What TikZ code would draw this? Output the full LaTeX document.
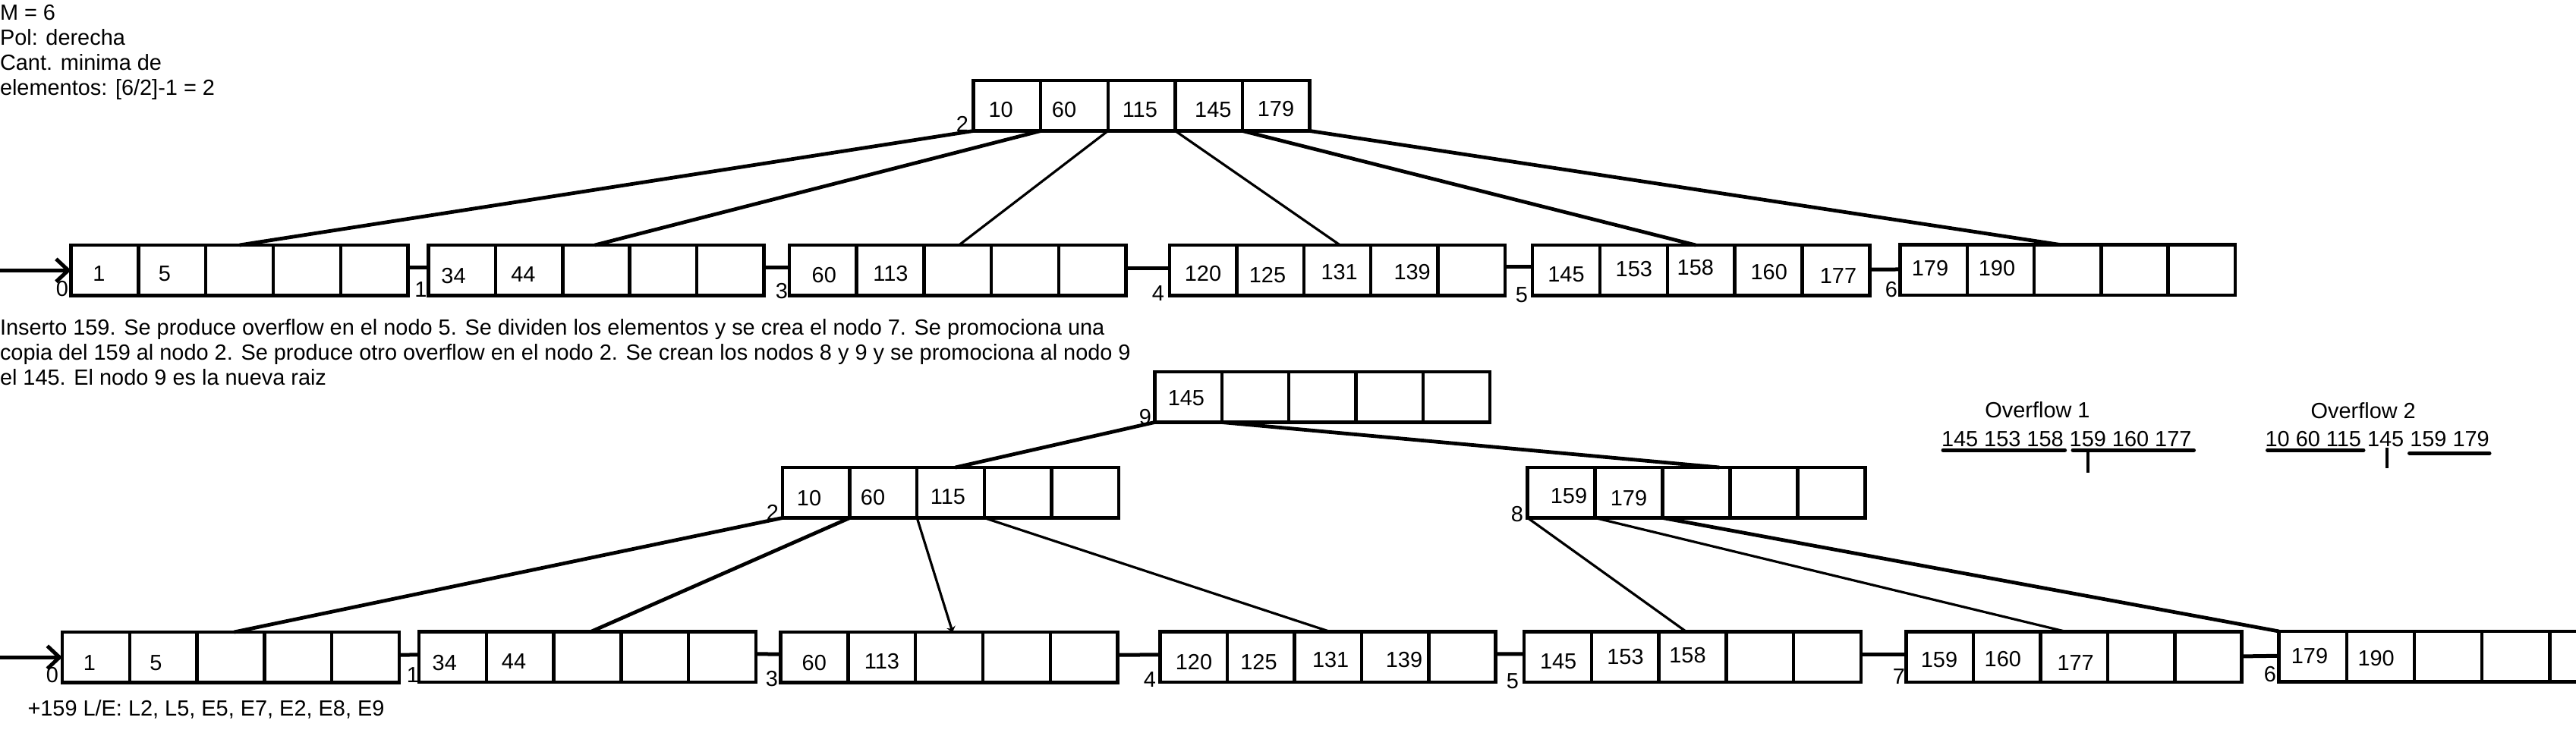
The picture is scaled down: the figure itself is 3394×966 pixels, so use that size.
\documentclass[tikz,border=0pt]{standalone}
\usepackage{fontspec}
\setmainfont{Liberation Sans}
\usetikzlibrary{arrows.meta,calc}
\tikzset{
  cell/.style={draw, line width=4.5pt, minimum height=66.5pt, inner sep=0pt, outer sep=0pt},
  txt/.style={inner sep=0pt, outer sep=0pt, font=\fontsize{28.9}{32.8}\selectfont},
  num/.style={txt, anchor=center},
  lbl/.style={txt, anchor=south east},
  textline/.style={txt, anchor=base west},
  edgeA/.style={line width=4.8pt},
  edgeB/.style={line width=3.2pt},
  link/.style={line width=5pt},
  uline/.style={line width=5pt, line cap=round},
  inarrow/.style={line width=5pt, -{Straight Barb[length=16pt,width=30pt]}},
  smallarrow/.style={-{Stealth[length=7pt,width=12pt]}}
}
\newcommand{\bnode}[4]{%
  \pgfmathsetmacro{\cw}{#4/5}%
  \foreach \i in {1,...,5}{%
    \node[cell, minimum width={\cw pt}, anchor=north west] (#1-\i) at ({#2+(\i-1)*\cw}, #3) {};
  }%
}
\begin{document}
\begin{tikzpicture}[x=1pt,y=-1pt]
\useasboundingbox (0,0) rectangle (3394,966);
\clip (0,0) rectangle (3394,966);

% ---------- header ----------
\node[textline] (h1) at (0,27) {M = 6};
\node[textline] (h2) at (0,59.8) {Pol: derecha};
\node[textline] (h3) at (0,92.6) {Cant. minima de};
\node[textline] (h4) at (0,125.4) {elementos: [6/2]-1 = 2};

% ---------- top tree ----------
\bnode{T2}{1282.5}{106}{443.2}
\bnode{T0}{93.6}{323}{444}
\bnode{T1}{564.5}{323}{442}
\bnode{T3}{1040}{323}{443.5}
\bnode{T4}{1541}{323}{442}
\bnode{T5}{2019}{323}{444.4}
\bnode{T6}{2503.6}{322.7}{441.3}

\coordinate (eT0) at ($(T0-3.north west)!0.5!(T0-3.north east)$);
\coordinate (eT1) at ($(T1-3.north west)!0.48!(T1-3.north east)$);
\coordinate (eT3) at ($(T3-3.north west)!0.52!(T3-3.north east)$);
\coordinate (eT4) at ($(T4-3.north west)!0.54!(T4-3.north east)$);
\coordinate (eT5) at ($(T5-3.north west)!0.42!(T5-3.north east)$);
\coordinate (eT6) at ($(T6-3.north west)!0.40!(T6-3.north east)$);
\draw[edgeA] (T2-1.south west) -- (eT0);
\draw[edgeA] (T2-1.south east) -- (eT1);
\draw[edgeB] (T2-2.south east) -- (eT3);
\draw[edgeB] (T2-3.south east) -- (eT4);
\draw[edgeA] (T2-4.south east) -- (eT5);
\draw[edgeA] (T2-5.south east) -- (eT6);

\coordinate (inT) at (0,356.25);
\draw[inarrow] (inT) -- (T0-1.west);
\draw[link] ([yshift=4pt]T0-5.east) -- ([yshift=4pt]T1-1.west);
\draw[link] ([yshift=4pt]T1-5.east) -- ([yshift=4pt]T3-1.west);
\draw[link] ([yshift=3pt]T3-5.east) -- ([yshift=3pt]T4-1.west);
\draw[link] ([yshift=5pt]T4-5.east) -- ([yshift=5pt]T5-1.west);
\draw[link] ([yshift=1pt]T5-5.east) -- ([yshift=1pt]T6-1.west);

\node[lbl] (lT2) at ($(T2-1.south west)+(-6.5,0.5)$) {2};
\node[lbl] (lT0) at ($(T0-1.south west)+(-3.6,1.5)$) {0};
\node[lbl] (lT1) at ($(T1-1.south west)+(-2,1.5)$) {1};
\node[lbl] (lT3) at ($(T3-1.south west)+(-2,4.5)$) {3};
\node[lbl] (lT4) at ($(T4-1.south west)+(-7,6.5)$) {4};
\node[lbl] (lT5) at ($(T5-1.south west)+(-6,9.5)$) {5};
\node[lbl] (lT6) at ($(T6-1.south west)+(-3.6,2.5)$) {6};

\node[num] (nT2a) at (1318.7,145) {10};
\node[num] (nT2b) at (1402,145) {60};
\node[num] (nT2c) at (1501.8,145) {115};
\node[num] (nT2d) at (1598.3,145) {145};
\node[num] (nT2e) at (1681,144) {179};
\node[num] (nT0a) at (130.3,360.8) {1};
\node[num] (nT0b) at (217,361) {5};
\node[num] (nT1a) at (597.5,364) {34};
\node[num] (nT1b) at (689.4,362) {44};
\node[num] (nT3a) at (1085.8,363) {60};
\node[num] (nT3b) at (1173.4,360.8) {113};
\node[num] (nT4a) at (1585,361) {120};
\node[num] (nT4b) at (1670,363) {125};
\node[num] (nT4c) at (1764.7,359) {131};
\node[num] (nT4d) at (1860.6,359) {139};
\node[num] (nT5a) at (2063.5,361.7) {145};
\node[num] (nT5b) at (2152.8,355) {153};
\node[num] (nT5c) at (2233.8,353) {158};
\node[num] (nT5d) at (2330.7,359) {160};
\node[num] (nT5e) at (2422,363.3) {177};
\node[num] (nT6a) at (2543,354) {179};
\node[num] (nT6b) at (2631,354) {190};

% ---------- paragraph ----------
\node[textline] (p1) at (0,441.7) {Inserto 159. Se produce overflow en el nodo 5. Se dividen los elementos y se crea el nodo 7. Se promociona una};
\node[textline] (p2) at (0,474.5) {copia del 159 al nodo 2. Se produce otro overflow en el nodo 2. Se crean los nodos 8 y 9 y se promociona al nodo 9};
\node[textline] (p3) at (0,507.3) {el 145. El nodo 9 es la nueva raiz};

% ---------- overflow notes ----------
\node[txt, anchor=base] (of1) at (2684.5,550) {Overflow 1};
\node[textline] (of1s) at (2558,588) {145 153 158 159 160 177};
\draw[uline] (2560,593.3) -- (2720.6,593.3);
\draw[uline] (2731,593.3) -- (2890.5,593.3);
\draw[line width=4pt] (2750.9,595) -- (2750.9,623.3);
\node[txt, anchor=base] (of2) at (3113.7,551.7) {Overflow 2};
\node[textline] (of2s) at (2984.6,588) {10 60 115 145 159 179};
\draw[uline] (2987.5,593.3) -- (3114,593.3);
\draw[line width=4pt] (3145.4,590) -- (3145.4,616.7);
\draw[uline] (3174.5,597.3) -- (3280,597.3);

% ---------- bottom tree ----------
\bnode{B9}{1521.4}{490}{441.8}
\bnode{B2}{1031}{616}{443}
\bnode{B8}{2012.7}{616}{444.8}
\bnode{B0}{82}{833}{444}
\bnode{B1}{552}{832.5}{444}
\bnode{B3}{1028.6}{833}{444}
\bnode{B4}{1528.7}{832.5}{442}
\bnode{B5}{2008}{832.7}{444}
\bnode{B7}{2511.7}{832.7}{442}
\bnode{B6}{3002.6}{832}{446}

\coordinate (eB2) at ($(B2-3.north west)!0.57!(B2-3.north east)$);
\coordinate (eB8) at ($(B8-3.north west)!0.84!(B8-3.north east)$);
\coordinate (eB0) at ($(B0-3.north west)!0.55!(B0-3.north east)$);
\coordinate (eB1) at ($(B1-3.north west)!0.55!(B1-3.north east)$);
\coordinate (eB3) at ($(B3-3.north west)!0.55!(B3-3.north east)$);
\coordinate (eB4) at ($(B4-3.north west)!0.53!(B4-3.north east)$);
\coordinate (eB5) at ($(B5-3.north west)!0.41!(B5-3.north east)$);
\coordinate (eB7) at ($(B7-3.north west)!0.39!(B7-3.north east)$);
\draw[edgeA] (B9-1.south west) -- (eB2);
\draw[edgeA] (B9-1.south east) -- (eB8);
\draw[edgeA] (B2-1.south west) -- (eB0);
\draw[edgeA] (B2-1.south east) -- (eB1);
\draw[edgeB, smallarrow] (B2-2.south east) -- (eB3);
\draw[edgeB] (B2-3.south east) -- (eB4);
\draw[edgeB] (B8-1.south west) -- (eB5);
\draw[edgeB] (B8-1.south east) -- (eB7);
\draw[edgeA] (B8-2.south east) -- (B6-1.north west);

\coordinate (inB) at (0,866.25);
\draw[inarrow] (inB) -- (B0-1.west);
\draw[link] ([yshift=3pt]B0-5.east) -- ([yshift=3pt]B1-1.west);
\draw[link] ([yshift=4pt]B1-5.east) -- ([yshift=4pt]B3-1.west);
\draw[link] ([yshift=3pt]B3-5.east) -- ([yshift=3pt]B4-1.west);
\draw[link] ([yshift=4pt]B4-5.east) -- ([yshift=4pt]B5-1.west);
\draw[link] ([yshift=3pt]B5-5.east) -- ([yshift=3pt]B7-1.west);
\draw[link] ([yshift=1pt]B7-5.east) -- ([yshift=1pt]B6-1.west);

\node[lbl] (lB9) at ($(B9-1.south west)+(-4.5,3)$) {9};
\node[lbl] (lB2) at ($(B2-1.south west)+(-5,2.5)$) {2};
\node[lbl] (lB8) at ($(B8-1.south west)+(-5.7,5.5)$) {8};
\node[lbl] (lB0) at ($(B0-1.south west)+(-5,0)$) {0};
\node[lbl] (lB1) at ($(B1-1.south west)+(0,0)$) {1};
\node[lbl] (lB3) at ($(B3-1.south west)+(-3.6,5.5)$) {3};
\node[lbl] (lB4) at ($(B4-1.south west)+(-5.7,6)$) {4};
\node[lbl] (lB5) at ($(B5-1.south west)+(-7,9)$) {5};
\node[lbl] (lB7) at ($(B7-1.south west)+(-1.7,2)$) {7};
\node[lbl] (lB6) at ($(B6-1.south west)+(-3.6,0)$) {6};

\node[num] (nB9a) at (1562.9,525) {145};
\node[num] (nB2a) at (1066,657) {10};
\node[num] (nB2b) at (1150,655.5) {60};
\node[num] (nB2c) at (1249,655) {115};
\node[num] (nB8a) at (2067,654) {159};
\node[num] (nB8b) at (2146,656.7) {179};
\node[num] (nB0a) at (117.9,873.3) {1};
\node[num] (nB0b) at (205.5,873.3) {5};
\node[num] (nB1a) at (585.8,874) {34};
\node[num] (nB1b) at (677,872) {44};
\node[num] (nB3a) at (1072.8,874) {60};
\node[num] (nB3b) at (1161.9,872) {113};
\node[num] (nB4a) at (1573,872.5) {120};
\node[num] (nB4b) at (1658.5,873) {125};
\node[num] (nB4c) at (1753.2,870) {131};
\node[num] (nB4d) at (1850,870) {139};
\node[num] (nB5a) at (2053.1,871.7) {145};
\node[num] (nB5b) at (2141.5,865.8) {153};
\node[num] (nB5c) at (2223.5,863.3) {158};
\node[num] (nB7a) at (2555,870) {159};
\node[num] (nB7b) at (2638.8,868.3) {160};
\node[num] (nB7c) at (2734.6,873.3) {177};
\node[num] (nB6a) at (3043,865) {179};
\node[num] (nB6b) at (3130.6,868) {190};

\node[textline] (foot) at (36.5,943.3) {+159 L/E: L2, L5, E5, E7, E2, E8, E9};
\end{tikzpicture}
\end{document}
